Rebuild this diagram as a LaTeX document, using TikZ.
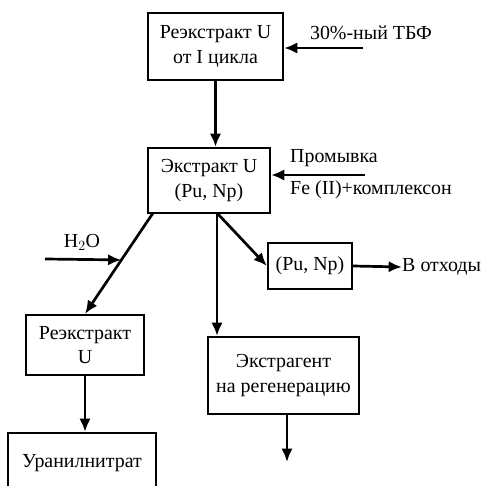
\documentclass[tikz,border=0pt]{standalone}
\usepackage{fontspec}
\setmainfont{Liberation Serif}
\usetikzlibrary{arrows.meta}
\begin{document}
\begin{tikzpicture}[x=0.03cm,y=-0.03cm,font=\fontsize{17}{21}\selectfont,
  box/.style={draw,line width=1.8pt,align=center,inner sep=0pt},
  flow/.style={line width=2.3pt,-{Latex[length=4mm,width=3.4mm]}}]
\useasboundingbox(0,0)rectangle(486,486);
\node[box,minimum width=4.05cm,minimum height=2.01cm](reext1)at(215.5,46.5){Реэкстракт U\\от I цикла};
\node[box,minimum width=3.66cm,minimum height=1.95cm](extr)at(209,180.5){Экстракт U\\(Pu, Np)};
\node[box,minimum width=2.52cm,minimum height=1.38cm](puNp)at(310,266){(Pu, Np)};
\node[box,minimum width=3.54cm,minimum height=1.8cm](reextU)at(85,345){Реэкстракт\\U};
\node[box,minimum width=4.53cm,minimum height=2.31cm](regen)at(283.5,375.5){Экстрагент\\на регенерацию};
\node[box,minimum width=4.44cm,minimum height=1.8cm](uranyl)at(82,463){Уранилнитрат};
\node[anchor=west,inner sep=0pt](waste)at(402,267){В отходы};
\node[inner sep=0pt](tbfL)at(371,33){30\%-ный ТБФ};
\node[anchor=west,inner sep=0pt](washL)at(290,158){Промывка};
\node[anchor=west,inner sep=0pt](feL)at(290,190){Fe (II)+комплексон};
\node[inner sep=0pt](h2oL)at(82,242){H$_2$O};
\coordinate(tbf)at(363,48);\coordinate(wash)at(365,175);\coordinate(h2o)at(45,259);
\coordinate(fork)at(217,213);\coordinate(left)at(153,213);\coordinate(out)at(287,462);
\draw[flow](reext1.south)--(reext1.south|-extr.north);
\draw[flow](tbf)--(tbf-|reext1.east);\draw[flow](wash)--(wash-|extr.east);
\draw[flow](left)--coordinate[pos=0.465](h)(reextU.north);\draw[flow](h2o)--(h);
\draw[flow](fork)--(fork|-regen.north);\draw[flow](fork)--(puNp.west);
\draw[flow](puNp.east)--(waste.west);
\draw[flow](reextU.south)--(reextU.south|-uranyl.north);
\draw[flow](regen.south-|out)--(out);
\end{tikzpicture}
\end{document}
